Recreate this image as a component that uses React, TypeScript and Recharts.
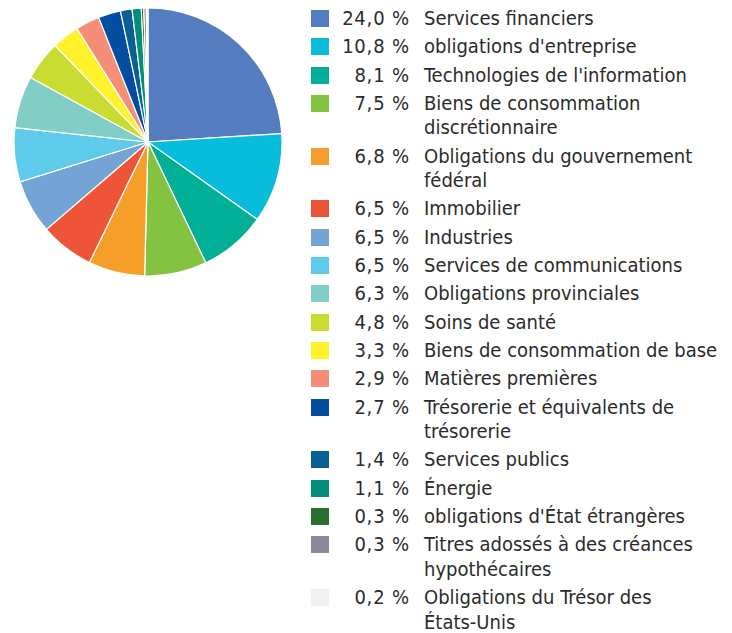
import React from "react";
import { PieChart, Pie, Cell, Legend } from "recharts";

const labels = [
  "Services financiers",
  "obligations d'entreprise",
  "Technologies de l'information",
  "Biens de consommation\ndiscrétionnaire",
  "Obligations du gouvernement\nfédéral",
  "Immobilier",
  "Industries",
  "Services de communications",
  "Obligations provinciales",
  "Soins de santé",
  "Biens de consommation de base",
  "Matières premières",
  "Trésorerie et équivalents de\ntrésorerie",
  "Services publics",
  "Énergie",
  "obligations d'État étrangères",
  "Titres adossés à des créances\nhypothécaires",
  "Obligations du Trésor des\nÉtats-Unis",
];

const values = [24.0, 10.8, 8.1, 7.5, 6.8, 6.5, 6.5, 6.5, 6.3, 4.8, 3.3, 2.9, 2.7, 1.4, 1.1, 0.3, 0.3, 0.2];

const colors = [
  "#557cc0", "#08bddc", "#00af95", "#84c341", "#f59f2a", "#ee5438",
  "#74a4d6", "#5ecbeb", "#80cec6", "#c9dc31", "#fff12a", "#f48e76",
  "#044ea1", "#0b5f94", "#00907a", "#2a6f30", "#898c98", "#f0f1f3",
];

const data = labels.map((name, i) => ({ name, value: values[i], color: colors[i] }));

const fmt = (v: number) => v.toFixed(1).replace(".", ",") + " %";

const FONT = "'Liberation Sans Narrow', 'DejaVu Sans Condensed', 'Liberation Sans', sans-serif";

const LegendContent = () => (
  <div style={{ fontFamily: FONT, fontSize: 20, color: "#2b2b2b", lineHeight: "24.5px" }}>
    {data.map((d) => (
      <div key={d.name} style={{ display: "flex", alignItems: "flex-start", marginBottom: 3.8 }}>
        <div style={{ width: 18, height: 17, background: d.color, marginTop: 4, flex: "none" }} />
        <div style={{ width: 80, textAlign: "right", flex: "none" }}>
          <span style={{ letterSpacing: 0.8, marginRight: -0.8 }}>{fmt(d.value)}</span>
        </div>
        <div style={{ marginLeft: 15, whiteSpace: "pre-line" }}>{d.name}</div>
      </div>
    ))}
  </div>
);

export default function App() {
  return (
    <PieChart width={724} height={625} margin={{ top: 0, right: 0, bottom: 0, left: 0 }}>
      <Pie
        data={data}
        dataKey="value"
        nameKey="name"
        cx={140}
        cy={134}
        outerRadius={134}
        startAngle={90}
        endAngle={-270}
        stroke="#ffffff"
        strokeWidth={1.2}
        isAnimationActive={false}
      >
        {data.map((d) => (
          <Cell key={d.name} fill={d.color} />
        ))}
      </Pie>
      <Legend
        content={<LegendContent />}
        wrapperStyle={{ left: 303, top: -2, width: 420, bottom: "auto" }}
      />
    </PieChart>
  );
}
